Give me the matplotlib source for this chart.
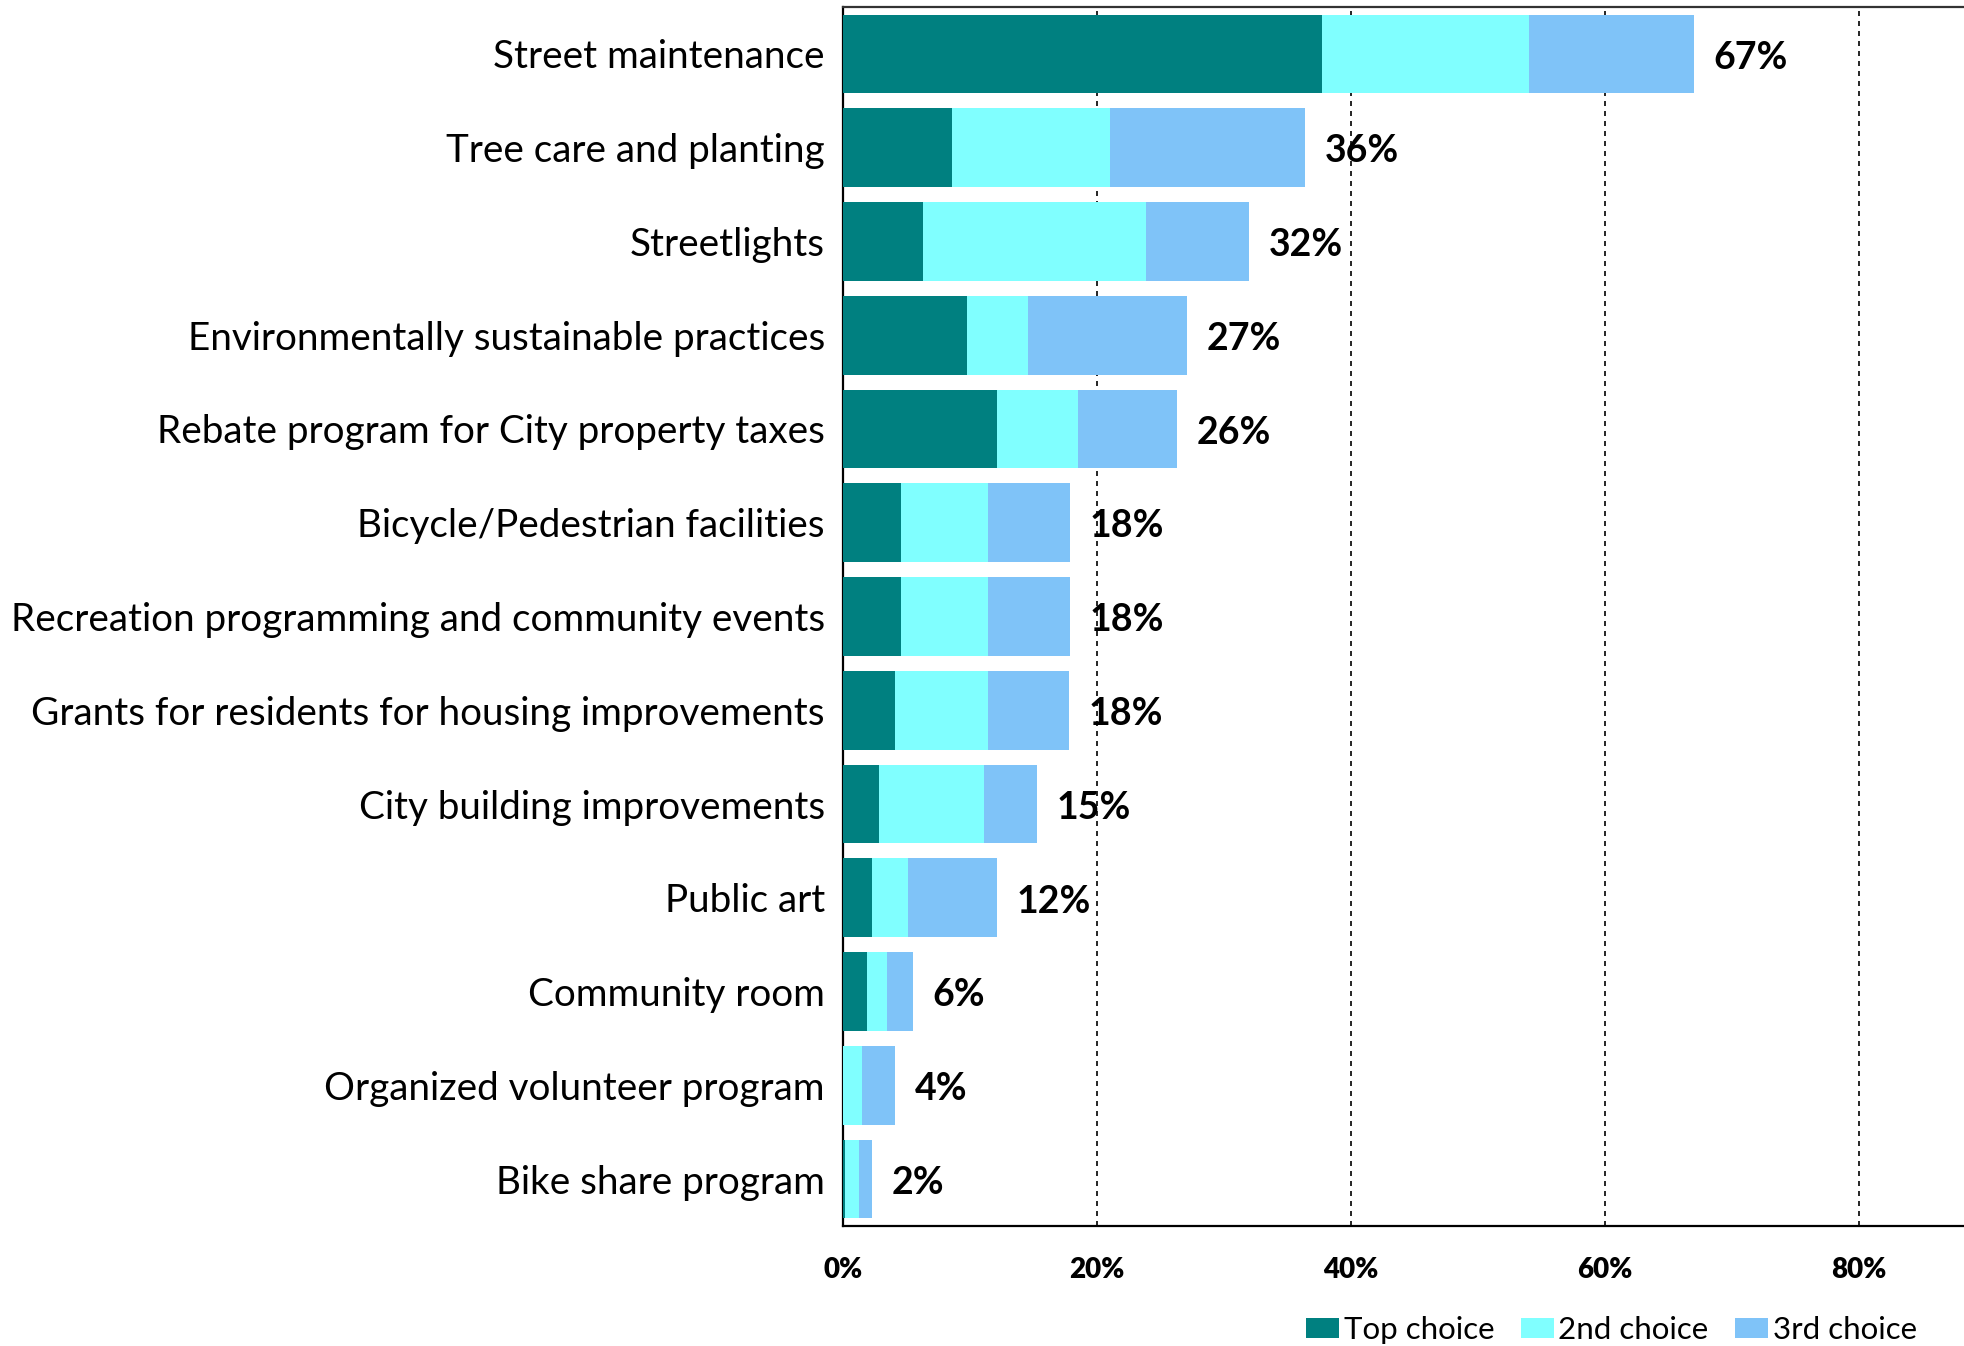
import numpy as np
import matplotlib.pyplot as plt

categories = [
    "Street maintenance",
    "Tree care and planting",
    "Streetlights",
    "Environmentally sustainable practices",
    "Rebate program for City property taxes",
    "Bicycle/Pedestrian facilities",
    "Recreation programming and community events",
    "Grants for residents for housing improvements",
    "City building improvements",
    "Public art",
    "Community room",
    "Organized volunteer program",
    "Bike share program",
]
top_choice = [37.7, 8.6, 6.3, 9.8, 12.1, 4.6, 4.6, 4.1, 2.8, 2.25, 1.9, 0.0, 0.15]
second_choice = [16.3, 12.4, 17.6, 4.8, 6.4, 6.8, 6.8, 7.3, 8.3, 2.9, 1.6, 1.5, 1.1]
third_choice = [13.0, 15.4, 8.1, 12.5, 7.8, 6.5, 6.5, 6.4, 4.2, 7.0, 2.0, 2.6, 1.0]
total_labels = ["67%", "36%", "32%", "27%", "26%", "18%", "18%", "18%",
                "15%", "12%", "6%", "4%", "2%"]
xticks = [0, 20, 40, 60, 80]
series_names = ["Top choice", "2nd choice", "3rd choice"]
colors = ["#008080", "#80FFFF", "#7FC3F8"]

plt.rcParams['font.family'] = ['Lato', 'DejaVu Sans']

fig = plt.figure(figsize=(19.64, 13.46), dpi=100)
ax = fig.add_axes([843 / 1964, 1 - 1226 / 1346, 1 - 843 / 1964, (1226 - 7) / 1346])

y = np.arange(len(categories))
t1 = np.array(top_choice)
t2 = np.array(second_choice)
t3 = np.array(third_choice)

ax.barh(y, t1, height=0.84, color=colors[0], label=series_names[0], zorder=3)
ax.barh(y, t2, left=t1, height=0.84, color=colors[1], label=series_names[1], zorder=3)
ax.barh(y, t3, left=t1 + t2, height=0.84, color=colors[2], label=series_names[2], zorder=3)

# total labels at bar ends
ends = t1 + t2 + t3
for yi, end, lab in zip(y, ends, total_labels):
    ax.text(end + 1.55, yi + 0.04, lab, va='center', ha='left', fontsize=27,
            fontweight='bold', color='black', zorder=4)

ax.set_ylim(len(categories) - 0.5, -0.5)
ax.set_xlim(0, 88.3)
ax.set_yticks(y)
ax.set_yticklabels(categories, fontsize=27.8)
ax.set_xticks(xticks)
ax.set_xticklabels([f"{v}%" for v in xticks], fontsize=20, fontweight='heavy')
ax.tick_params(axis='y', length=0, pad=13)
ax.tick_params(axis='x', length=0, pad=22)

ax.xaxis.grid(True, linestyle=(0, (3, 3)), color='black', linewidth=1.2, zorder=0)
ax.set_axisbelow(True)

ax.spines['right'].set_visible(False)
ax.spines['left'].set_linewidth(1.6)
ax.spines['bottom'].set_linewidth(1.6)
ax.spines['top'].set_linewidth(1.6)
ax.spines['top'].set_color('#333333')

fig.legend(loc='center right', bbox_to_anchor=(0.976, 1 - 1330 / 1346), ncol=3,
           frameon=False, fontsize=22.5, handlelength=1.05, handleheight=0.65,
           handletextpad=0.15, columnspacing=0.85, borderpad=0, borderaxespad=0)

fig.savefig("out.png", dpi=100)
